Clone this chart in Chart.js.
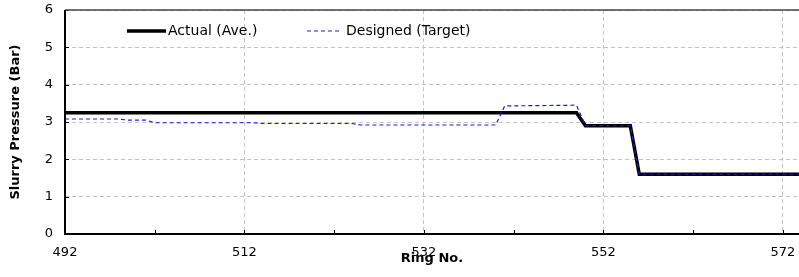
<!DOCTYPE html>
<html>
<head>
<meta charset="utf-8">
<script src="https://cdn.jsdelivr.net/npm/chart.js@4.4.1/dist/chart.umd.min.js"></script>
<style>
  html, body { margin: 0; padding: 0; background: #fff; }
  #wrap { width: 799px; height: 277px; }
</style>
</head>
<body>
<div id="wrap"><canvas id="chart" width="799" height="277"></canvas></div>
<script>
// Ring numbers and slurry pressures (Bar)
const actualRings = [492, 549, 550, 555, 556, 574];
const actualValues = [3.25, 3.25, 2.9, 2.9, 1.6, 1.6];

const designRings = [492, 498, 499, 501, 502, 513, 514, 524, 525, 540, 541, 549, 550, 555, 556, 574];
const designValues = [3.08, 3.08, 3.05, 3.05, 2.98, 2.98, 2.96, 2.96, 2.92, 2.92, 3.43, 3.45, 2.9, 2.9, 1.6, 1.6];

const xTicks = [492, 512, 532, 552, 572];
const yTicks = [0, 1, 2, 3, 4, 5, 6];

const FONT = '"DejaVu Sans", Verdana, sans-serif';

const toPoints = (xs, ys) => xs.map((x, i) => ({ x: x, y: ys[i] }));

// Legend inside the plot, borders and small inward tick marks
const framePlugin = {
    id: 'frame',
    afterDatasetsDraw(chart) {
        const { ctx, chartArea: a, scales } = chart;
        ctx.save();

        // small inner ticks on the x axis (major + minor)
        ctx.strokeStyle = '#000';
        ctx.lineWidth = 1;
        ctx.setLineDash([]);
        for (let r = 492; r <= 574; r += 10) {
            const px = Math.round(scales.x.getPixelForValue(r)) + 0.5;
            ctx.beginPath();
            ctx.moveTo(px, a.bottom);
            ctx.lineTo(px, a.bottom - 4);
            ctx.stroke();
        }
        // y ticks inward
        yTicks.forEach(v => {
            const py = Math.round(scales.y.getPixelForValue(v)) + 0.5;
            ctx.beginPath();
            ctx.moveTo(a.left, py);
            ctx.lineTo(a.left + 4, py);
            ctx.stroke();
        });

        // top border
        ctx.strokeStyle = '#444';
        ctx.lineWidth = 1.5;
        ctx.beginPath();
        ctx.moveTo(a.left, a.top);
        ctx.lineTo(a.right, a.top);
        ctx.stroke();

        // left and bottom axes
        ctx.strokeStyle = '#000';
        ctx.lineWidth = 2;
        ctx.beginPath();
        ctx.moveTo(a.left, a.top);
        ctx.lineTo(a.left, a.bottom);
        ctx.lineTo(a.right, a.bottom);
        ctx.stroke();

        // legend
        const ly = 31;
        ctx.font = '14px ' + FONT;
        ctx.fillStyle = '#000';
        ctx.textBaseline = 'middle';

        ctx.strokeStyle = '#000';
        ctx.lineWidth = 3.5;
        ctx.beginPath();
        ctx.moveTo(127, ly);
        ctx.lineTo(166, ly);
        ctx.stroke();
        ctx.fillText('Actual (Ave.)', 168, ly);

        ctx.strokeStyle = '#1a1aee';
        ctx.lineWidth = 1.2;
        ctx.setLineDash([4, 3]);
        ctx.beginPath();
        ctx.moveTo(307, ly);
        ctx.lineTo(341, ly);
        ctx.stroke();
        ctx.setLineDash([]);
        ctx.fillText('Designed (Target)', 346, ly);

        ctx.restore();
    }
};

new Chart(document.getElementById('chart'), {
    type: 'line',
    data: {
        datasets: [
            {
                label: 'Designed (Target)',
                data: toPoints(designRings, designValues),
                borderColor: '#1a1aee',
                borderWidth: 1.2,
                borderDash: [4, 3],
                pointRadius: 0,
                tension: 0,
                order: 0
            },
            {
                label: 'Actual (Ave.)',
                data: toPoints(actualRings, actualValues),
                borderColor: '#000',
                borderWidth: 3.5,
                pointRadius: 0,
                tension: 0,
                order: 1
            }
        ]
    },
    options: {
        responsive: false,
        animation: false,
        layout: { padding: { top: 10, right: 0, left: 0, bottom: 0 } },
        plugins: {
            legend: { display: false },
            tooltip: { enabled: false }
        },
        scales: {
            x: {
                type: 'linear',
                min: 492,
                max: 573.8,
                afterBuildTicks: axis => { axis.ticks = xTicks.map(v => ({ value: v })); },
                afterFit: axis => {
                    axis.height = 43;
                    axis.paddingLeft = 0;
                    axis.paddingRight = 0;
                },
                ticks: {
                    color: '#000',
                    font: { family: FONT, size: 13 },
                    padding: 11,
                    maxRotation: 0
                },
                grid: {
                    color: '#c4c4c4',
                    lineWidth: 1,
                    drawTicks: false
                },
                border: { display: false, dash: [4, 3] },
                title: {
                    display: true,
                    text: 'Ring No.',
                    color: '#000',
                    font: { family: FONT, size: 13, weight: 'bold' },
                    padding: { top: 0, bottom: 11 }
                }
            },
            y: {
                min: 0,
                max: 6,
                afterBuildTicks: axis => { axis.ticks = yTicks.map(v => ({ value: v })); },
                afterFit: axis => {
                    axis.width = 65;
                    axis.paddingTop = 0;
                    axis.paddingBottom = 0;
                },
                ticks: {
                    color: '#000',
                    font: { family: FONT, size: 13 },
                    padding: 12
                },
                grid: {
                    color: '#c4c4c4',
                    lineWidth: 1,
                    drawTicks: false
                },
                border: { display: false, dash: [4, 3] },
                title: {
                    display: true,
                    text: 'Slurry Pressure (Bar)',
                    color: '#000',
                    font: { family: FONT, size: 13, weight: 'bold' },
                    padding: { top: 8, bottom: 0 }
                }
            }
        }
    },
    plugins: [framePlugin]
});
</script>
</body>
</html>
